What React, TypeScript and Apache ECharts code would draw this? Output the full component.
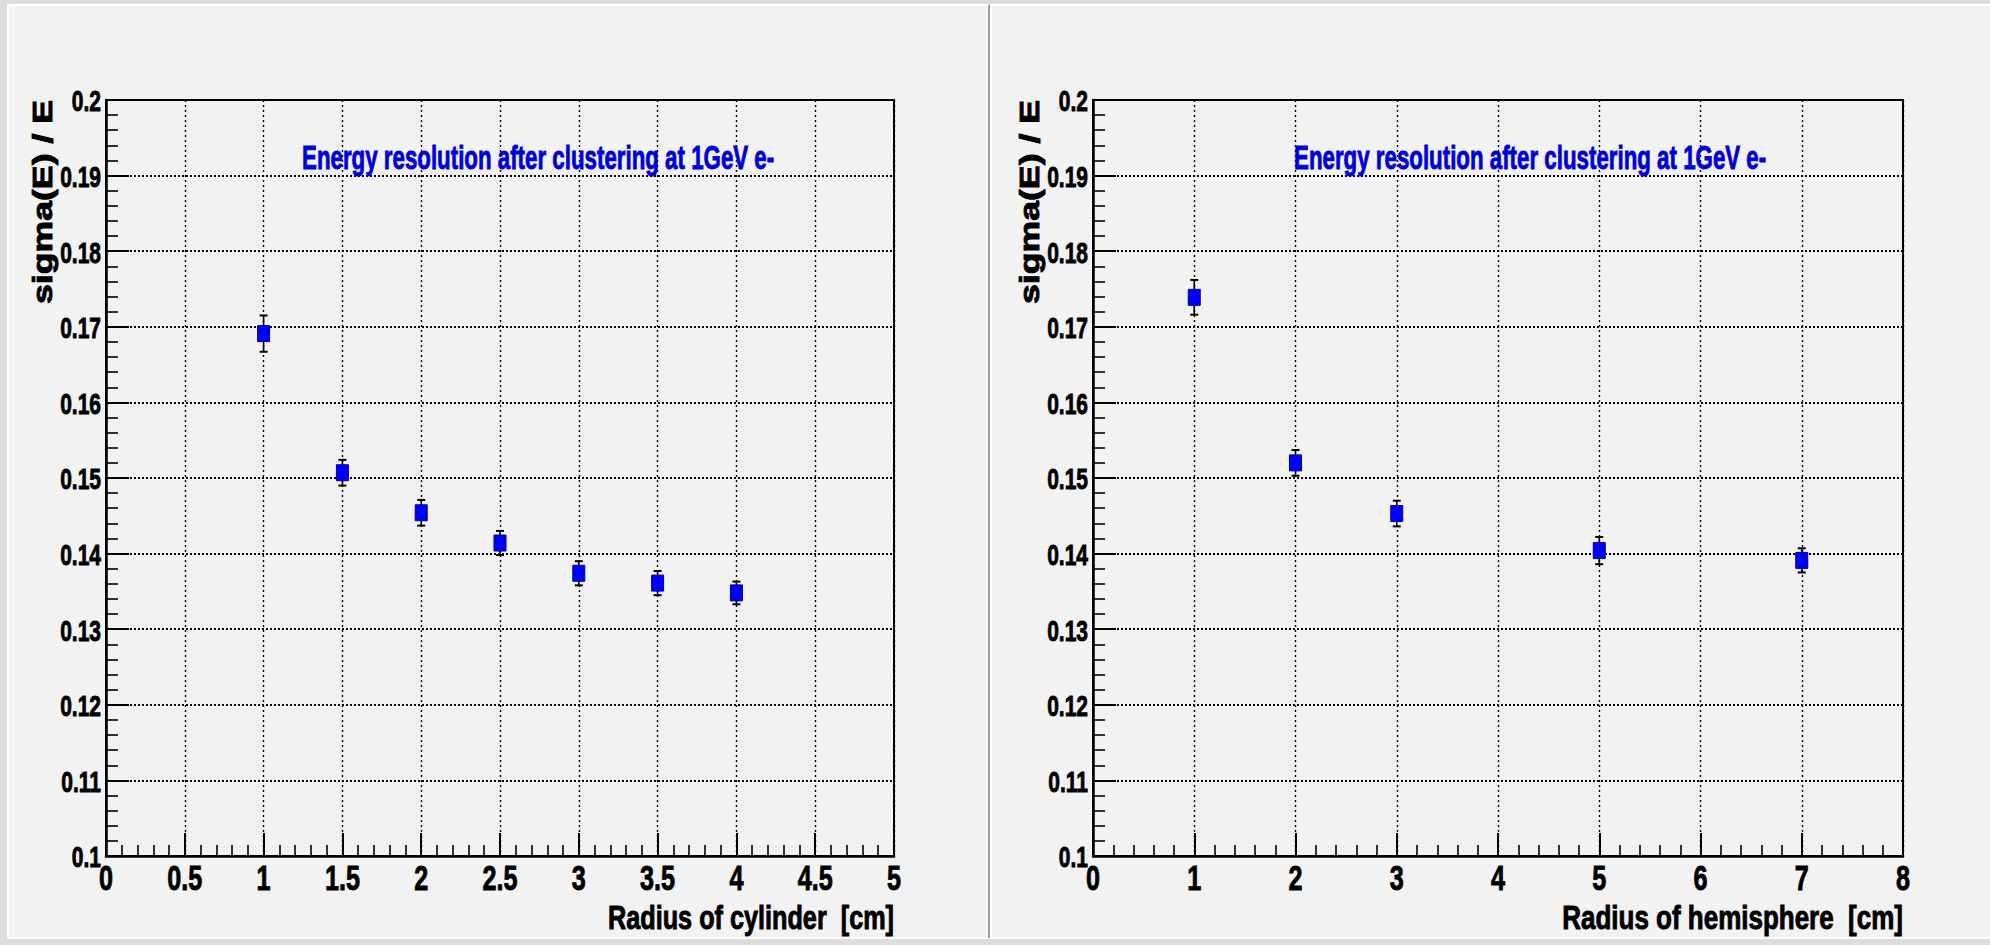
import React, { useEffect, useRef } from 'react';
import * as echarts from 'echarts';

// ---- data ----
const cylRadius = [1, 1.5, 2, 2.5, 3, 3.5, 4];
const cylSigma = [0.1691, 0.1507, 0.1454, 0.1414, 0.1374, 0.1361, 0.1348];
const cylError = [0.0024, 0.0017, 0.0017, 0.0016, 0.0016, 0.0016, 0.0015];

const hemRadius = [1, 2, 3, 5, 7];
const hemSigma = [0.1739, 0.152, 0.1453, 0.1404, 0.1391];
const hemError = [0.0023, 0.0017, 0.0017, 0.0018, 0.0016];

const yTicks = [0.1, 0.11, 0.12, 0.13, 0.14, 0.15, 0.16, 0.17, 0.18, 0.19, 0.2];
const yTickLabels = ['0.1', '0.11', '0.12', '0.13', '0.14', '0.15', '0.16', '0.17', '0.18', '0.19', '0.2'];
const cylTicks = [0, 0.5, 1, 1.5, 2, 2.5, 3, 3.5, 4, 4.5, 5];
const cylTickLabels = ['0', '0.5', '1', '1.5', '2', '2.5', '3', '3.5', '4', '4.5', '5'];
const hemTicks = [0, 1, 2, 3, 4, 5, 6, 7, 8];
const hemTickLabels = ['0', '1', '2', '3', '4', '5', '6', '7', '8'];

const titleText = 'Energy resolution after clustering at 1GeV e-';
const yTitle = 'sigma(E) / E';
const cylTitle = 'Radius of cylinder  [cm]';
const hemTitle = 'Radius of hemisphere  [cm]';

const FONT = '"Liberation Sans", Arial, Helvetica, sans-serif';

function measure(text: string, size: number): number {
  const c = document.createElement('canvas');
  const ctx = c.getContext('2d');
  if (!ctx) return text.length * size * 0.55;
  ctx.font = `bold ${size}px "Liberation Sans", Arial, sans-serif`;
  return ctx.measureText(text).width;
}

function txt(text: string, x: number, y: number, size: number, align: string, vAlign: string, scaleX: number, fill = '#000', rotation = 0) {
  return {
    type: 'text',
    x,
    y,
    rotation,
    scaleX,
    scaleY: 1,
    z: 50,
    silent: true,
    style: {
      text,
      fill,
      stroke: fill,
      lineWidth: 0.9,
      fontSize: size,
      fontWeight: 'bold',
      fontFamily: FONT,
      align,
      verticalAlign: vAlign,
      textAlign: align,
      textVerticalAlign: vAlign,
    },
  };
}

const panels = [
  {
    grid: { left: 106, top: 100, width: 788, height: 756 },
    xMax: 5,
    xInterval: 0.5,
    xTicks: cylTicks,
    xTickLabels: cylTickLabels,
    xName: cylTitle,
    xNameWidth: 286,
    titleLeft: 302,
    x: cylRadius,
    y: cylSigma,
    e: cylError,
  },
  {
    grid: { left: 1093, top: 100, width: 810, height: 756 },
    xMax: 8,
    xInterval: 1,
    xTicks: hemTicks,
    xTickLabels: hemTickLabels,
    xName: hemTitle,
    xNameWidth: 341,
    titleLeft: 1294,
    x: hemRadius,
    y: hemSigma,
    e: hemError,
  },
];

export default function App() {
  const ref = useRef<HTMLDivElement>(null);

  useEffect(() => {
    document.body.style.margin = '0';
    if (!ref.current) return;
    const chart = echarts.init(ref.current, undefined, { renderer: 'svg' });

    const renderItem = (params: any, api: any) => {
      const xv = api.value(0);
      const yv = api.value(1);
      const ev = api.value(2);
      const c = api.coord([xv, yv]);
      const t = api.coord([xv, yv + ev]);
      const b = api.coord([xv, yv - ev]);
      return {
        type: 'group',
        children: [
          { type: 'line', shape: { x1: c[0], y1: t[1], x2: c[0], y2: b[1] }, style: { stroke: '#000', lineWidth: 1.6 } },
          { type: 'line', shape: { x1: c[0] - 4, y1: t[1], x2: c[0] + 4, y2: t[1] }, style: { stroke: '#000', lineWidth: 2 } },
          { type: 'line', shape: { x1: c[0] - 4, y1: b[1], x2: c[0] + 4, y2: b[1] }, style: { stroke: '#000', lineWidth: 2 } },
          { type: 'rect', shape: { x: c[0] - 6, y: c[1] - 8, width: 12, height: 16 }, style: { fill: '#0000ff', stroke: '#000099', lineWidth: 1 } },
        ],
      };
    };

    const option: any = {
      animation: false,
      backgroundColor: '#dcdcdc',
      grid: panels.map((p) => ({
        ...p.grid,
        show: true,
        borderColor: '#000',
        borderWidth: 2,
        backgroundColor: 'transparent',
        z: 2,
      })),
      xAxis: panels.map((p, i) => ({
        type: 'value',
        gridIndex: i,
        min: 0,
        max: p.xMax,
        interval: p.xInterval,
        axisLine: { show: true, onZero: false, lineStyle: { color: '#000', width: 2.5 } },
        axisTick: { show: true, inside: true, length: 23, lineStyle: { color: '#000', width: 2 } },
        minorTick: { show: true, splitNumber: 5, length: 11, lineStyle: { color: '#000', width: 1.6 } },
        axisLabel: { show: false },
        splitLine: { show: true, lineStyle: { color: '#000', width: 1.4, type: [2, 3] } },
      })),
      yAxis: panels.map((p, i) => ({
        type: 'value',
        gridIndex: i,
        min: 0.1,
        max: 0.2,
        interval: 0.01,
        axisLine: { show: true, onZero: false, lineStyle: { color: '#000', width: 2.5 } },
        axisTick: { show: true, inside: true, length: 23, lineStyle: { color: '#000', width: 2 } },
        minorTick: { show: true, splitNumber: 5, length: 12, lineStyle: { color: '#000', width: 1.6 } },
        axisLabel: { show: false },
        splitLine: { show: true, lineStyle: { color: '#000', width: 1.8, type: [2, 2] } },
      })),
      series: panels.map((p, i) => ({
        type: 'custom',
        xAxisIndex: i,
        yAxisIndex: i,
        clip: false,
        z: 10,
        renderItem,
        encode: { x: 0, y: 1 },
        data: p.x.map((xv, k) => [xv, p.y[k], p.e[k]]),
      })),
    };
    chart.setOption(option);

    // ---- texts placed through the axes' own scales ----
    const elements: any[] = [
      { type: 'rect', z: -10, silent: true, shape: { x: 8, y: 5, width: 980, height: 933 }, style: { fill: '#f2f2f2', stroke: '#ffffff', lineWidth: 2 } },
      { type: 'rect', z: -10, silent: true, shape: { x: 991, y: 5, width: 1002, height: 933 }, style: { fill: '#f2f2f2', stroke: '#ffffff', lineWidth: 2 } },
      { type: 'line', z: -9, silent: true, shape: { x1: 989, y1: 5, x2: 989, y2: 938 }, style: { stroke: '#9a9a9a', lineWidth: 2 } },
    ];

    const Y_FS = 30;
    const X_FS = 36;
    const TICK_SX = 0.7;

    panels.forEach((p, i) => {
      const x0 = chart.convertToPixel({ xAxisIndex: i } as any, 0) as number;
      const x1 = chart.convertToPixel({ xAxisIndex: i } as any, p.xMax) as number;
      const yTop = chart.convertToPixel({ yAxisIndex: i } as any, 0.2) as number;
      const yBot = chart.convertToPixel({ yAxisIndex: i } as any, 0.1) as number;

      yTicks.forEach((v, k) => {
        const py = chart.convertToPixel({ yAxisIndex: i } as any, v) as number;
        elements.push(txt(yTickLabels[k], x0 - 5, py + 1, Y_FS, 'right', 'middle', TICK_SX));
      });
      p.xTicks.forEach((v, k) => {
        const px = chart.convertToPixel({ xAxisIndex: i } as any, v) as number;
        elements.push(txt(p.xTickLabels[k], px, yBot + 22, X_FS, 'center', 'middle', TICK_SX));
      });

      // x axis title (right aligned to the frame)
      const xnW = measure(p.xName, 33);
      elements.push(txt(p.xName, x1, yBot + 61, 33, 'right', 'middle', p.xNameWidth / xnW));

      // y axis title (rotated, ending at the top of the frame)
      const ynW = measure(yTitle, 28);
      elements.push(txt(yTitle, x0 - 64, yTop, 28, 'right', 'middle', 204 / ynW, '#000', Math.PI / 2));

      // blue title
      const tW = measure(titleText, 34);
      elements.push(txt(titleText, p.titleLeft, 157, 34, 'left', 'middle', 472 / tW, '#0000dd'));
    });

    chart.setOption({ graphic: { elements } });

    return () => {
      chart.dispose();
    };
  }, []);

  return <div ref={ref} style={{ width: 1990, height: 945 }} />;
}
